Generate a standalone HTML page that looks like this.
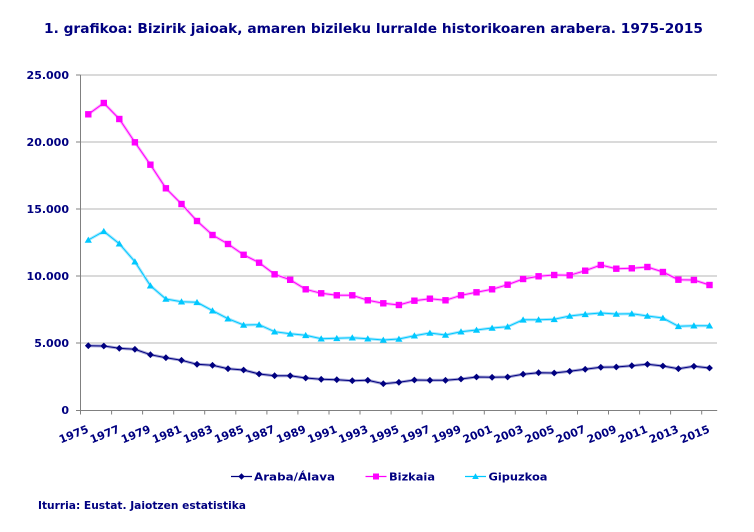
<!DOCTYPE html>
<html><head><meta charset="utf-8"><style>
html,body{margin:0;padding:0;background:#fff;}
svg{display:block;}
text{font-family:"DejaVu Sans","Liberation Sans",sans-serif;font-weight:bold;fill:#000080;}
</style></head><body>
<svg width="754" height="532" viewBox="0 0 754 532" xmlns="http://www.w3.org/2000/svg">
<defs>
<marker id="mb" markerUnits="userSpaceOnUse" markerWidth="8" markerHeight="8" refX="4" refY="4" overflow="visible"><rect x="0.8" y="0.8" width="6.4" height="6.4" fill="#ff00ff"/></marker>
<marker id="mg" markerUnits="userSpaceOnUse" markerWidth="8" markerHeight="8" refX="4" refY="4" overflow="visible"><polygon points="4,0.6 7.6,6.8 0.4,6.8" fill="#00c8ff"/></marker>
<marker id="ma" markerUnits="userSpaceOnUse" markerWidth="8" markerHeight="8" refX="4" refY="4" overflow="visible"><polygon points="4,0.6 7.4,4 4,7.4 0.6,4" fill="#000080"/></marker>
</defs>

<text x="44" y="33" font-size="13.5" textLength="659" lengthAdjust="spacingAndGlyphs">1. grafikoa: Bizirik jaioak, amaren bizileku lurralde historikoaren arabera. 1975-2015</text>

<!-- gridlines -->
<g stroke="#b4b4b4" stroke-width="1">
<line x1="80.5" y1="75" x2="717" y2="75"/>
<line x1="80.5" y1="142" x2="717" y2="142"/>
<line x1="80.5" y1="209" x2="717" y2="209"/>
<line x1="80.5" y1="276" x2="717" y2="276"/>
<line x1="80.5" y1="343" x2="717" y2="343"/>
</g>
<!-- axes -->
<g stroke="#808080" stroke-width="1">
<line x1="80.5" y1="75" x2="80.5" y2="410.5"/>
<line x1="80.5" y1="410.5" x2="717.2" y2="410.5"/>
<line x1="76" y1="75" x2="80.5" y2="75"/>
<line x1="76" y1="142" x2="80.5" y2="142"/>
<line x1="76" y1="209" x2="80.5" y2="209"/>
<line x1="76" y1="276" x2="80.5" y2="276"/>
<line x1="76" y1="343" x2="80.5" y2="343"/>
<line x1="76" y1="410.5" x2="80.5" y2="410.5"/>
<path d="M80.5 410.5v4M111.6 410.5v4M142.6 410.5v4M173.7 410.5v4M204.7 410.5v4M235.8 410.5v4M266.9 410.5v4M297.9 410.5v4M329 410.5v4M360 410.5v4M391.1 410.5v4M422.2 410.5v4M453.2 410.5v4M484.3 410.5v4M515.3 410.5v4M546.4 410.5v4M577.5 410.5v4M608.5 410.5v4M639.6 410.5v4M670.6 410.5v4M701.7 410.5v4"/>
</g>

<!-- y labels -->
<g font-size="11" text-anchor="end">
<text x="69" y="79">25.000</text>
<text x="69" y="146">20.000</text>
<text x="69" y="213">15.000</text>
<text x="69" y="280">10.000</text>
<text x="69" y="347">5.000</text>
<text x="69" y="414">0</text>
</g>

<!-- x labels -->
<g font-size="11" text-anchor="end">
<text transform="translate(89.3,432) rotate(-22)">1975</text>
<text transform="translate(120.3,432) rotate(-22)">1977</text>
<text transform="translate(151.4,432) rotate(-22)">1979</text>
<text transform="translate(182.5,432) rotate(-22)">1981</text>
<text transform="translate(213.5,432) rotate(-22)">1983</text>
<text transform="translate(244.6,432) rotate(-22)">1985</text>
<text transform="translate(275.6,432) rotate(-22)">1987</text>
<text transform="translate(306.7,432) rotate(-22)">1989</text>
<text transform="translate(337.8,432) rotate(-22)">1991</text>
<text transform="translate(368.8,432) rotate(-22)">1993</text>
<text transform="translate(399.9,432) rotate(-22)">1995</text>
<text transform="translate(430.9,432) rotate(-22)">1997</text>
<text transform="translate(462,432) rotate(-22)">1999</text>
<text transform="translate(493.1,432) rotate(-22)">2001</text>
<text transform="translate(524.1,432) rotate(-22)">2003</text>
<text transform="translate(555.2,432) rotate(-22)">2005</text>
<text transform="translate(586.2,432) rotate(-22)">2007</text>
<text transform="translate(617.3,432) rotate(-22)">2009</text>
<text transform="translate(648.4,432) rotate(-22)">2011</text>
<text transform="translate(679.4,432) rotate(-22)">2013</text>
<text transform="translate(710.5,432) rotate(-22)">2015</text>
</g>

<!-- Bizkaia -->
<polyline fill="none" stroke="#ffb0ff" stroke-width="3" points="88.3,114.3 103.8,103 119.3,119 134.9,142.3 150.4,164.7 165.9,188.3 181.5,204 197,221 212.5,235 228,244 243.6,254.8 259.1,262.7 274.6,274.3 290.2,279.8 305.7,289.3 321.2,293.3 336.8,295.3 352.3,295.3 367.8,300.3 383.3,303.3 398.9,305 414.4,300.7 429.9,298.7 445.5,300.3 461,295.3 476.5,292.3 492.1,289.3 507.6,284.7 523.1,279 538.6,276.3 554.2,275 569.7,275.3 585.2,270.7 600.8,265 616.3,268.7 631.8,268.3 647.4,267 662.9,272 678.4,279.7 693.9,280 709.5,285"/>
<polyline fill="none" stroke="#ff00ff" stroke-width="1" marker-start="url(#mb)" marker-mid="url(#mb)" marker-end="url(#mb)" points="88.3,114.3 103.8,103 119.3,119 134.9,142.3 150.4,164.7 165.9,188.3 181.5,204 197,221 212.5,235 228,244 243.6,254.8 259.1,262.7 274.6,274.3 290.2,279.8 305.7,289.3 321.2,293.3 336.8,295.3 352.3,295.3 367.8,300.3 383.3,303.3 398.9,305 414.4,300.7 429.9,298.7 445.5,300.3 461,295.3 476.5,292.3 492.1,289.3 507.6,284.7 523.1,279 538.6,276.3 554.2,275 569.7,275.3 585.2,270.7 600.8,265 616.3,268.7 631.8,268.3 647.4,267 662.9,272 678.4,279.7 693.9,280 709.5,285"/>

<!-- Gipuzkoa -->
<polyline fill="none" stroke="#a8e8ff" stroke-width="3" points="88.3,240 103.8,231.3 119.3,243.7 134.9,261.7 150.4,285.7 165.9,299 181.5,301.7 197,302.3 212.5,310.7 228,318.7 243.6,325 259.1,324.7 274.6,331.7 290.2,333.8 305.7,335.3 321.2,338.7 336.8,338.3 352.3,337.7 367.8,338.7 383.3,340 398.9,339 414.4,335.7 429.9,333 445.5,335 461,331.7 476.5,330 492.1,328 507.6,326.7 523.1,319.8 538.6,319.7 554.2,319.3 569.7,316 585.2,314.3 600.8,313 616.3,314 631.8,313.7 647.4,316 662.9,318 678.4,326.3 693.9,325.7 709.5,325.7"/>
<polyline fill="none" stroke="#00c8ff" stroke-width="1" marker-start="url(#mg)" marker-mid="url(#mg)" marker-end="url(#mg)" points="88.3,240 103.8,231.3 119.3,243.7 134.9,261.7 150.4,285.7 165.9,299 181.5,301.7 197,302.3 212.5,310.7 228,318.7 243.6,325 259.1,324.7 274.6,331.7 290.2,333.8 305.7,335.3 321.2,338.7 336.8,338.3 352.3,337.7 367.8,338.7 383.3,340 398.9,339 414.4,335.7 429.9,333 445.5,335 461,331.7 476.5,330 492.1,328 507.6,326.7 523.1,319.8 538.6,319.7 554.2,319.3 569.7,316 585.2,314.3 600.8,313 616.3,314 631.8,313.7 647.4,316 662.9,318 678.4,326.3 693.9,325.7 709.5,325.7"/>

<!-- Araba -->
<polyline fill="none" stroke="#a8a8d8" stroke-width="3" points="88.3,345.7 103.8,346 119.3,348.3 134.9,349.3 150.4,354.7 165.9,357.7 181.5,360.3 197,364.3 212.5,365.3 228,368.7 243.6,370 259.1,374 274.6,375.7 290.2,375.8 305.7,378 321.2,379.3 336.8,379.7 352.3,380.7 367.8,380.3 383.3,383.7 398.9,382.3 414.4,380 429.9,380.3 445.5,380.3 461,379 476.5,377 492.1,377.3 507.6,377 523.1,374.2 538.6,372.7 554.2,373 569.7,371.3 585.2,369.3 600.8,367.3 616.3,367 631.8,365.7 647.4,364.3 662.9,366 678.4,368.7 693.9,366.3 709.5,368"/>
<polyline fill="none" stroke="#000080" stroke-width="1" marker-start="url(#ma)" marker-mid="url(#ma)" marker-end="url(#ma)" points="88.3,345.7 103.8,346 119.3,348.3 134.9,349.3 150.4,354.7 165.9,357.7 181.5,360.3 197,364.3 212.5,365.3 228,368.7 243.6,370 259.1,374 274.6,375.7 290.2,375.8 305.7,378 321.2,379.3 336.8,379.7 352.3,380.7 367.8,380.3 383.3,383.7 398.9,382.3 414.4,380 429.9,380.3 445.5,380.3 461,379 476.5,377 492.1,377.3 507.6,377 523.1,374.2 538.6,372.7 554.2,373 569.7,371.3 585.2,369.3 600.8,367.3 616.3,367 631.8,365.7 647.4,364.3 662.9,366 678.4,368.7 693.9,366.3 709.5,368"/>

<!-- legend -->
<line x1="231" y1="476.5" x2="252" y2="476.5" stroke="#000080" stroke-width="1.2"/>
<polygon points="241.5,473.3 244.7,476.5 241.5,479.7 238.3,476.5" fill="#000080"/>
<text x="254" y="480.7" font-size="11" textLength="81" lengthAdjust="spacingAndGlyphs">Araba/Álava</text>
<line x1="365.5" y1="476.5" x2="386.5" y2="476.5" stroke="#ff00ff" stroke-width="1.2"/>
<rect x="373" y="473.5" width="6" height="6" fill="#ff00ff"/>
<text x="389" y="480.7" font-size="11" textLength="46" lengthAdjust="spacingAndGlyphs">Bizkaia</text>
<line x1="465" y1="476.5" x2="486" y2="476.5" stroke="#00c8ff" stroke-width="1.2"/>
<polygon points="475.5,473.2 478.8,479 472.2,479" fill="#00c8ff"/>
<text x="488.5" y="480.7" font-size="11" textLength="59" lengthAdjust="spacingAndGlyphs">Gipuzkoa</text>

<!-- source -->
<text x="38" y="509" font-size="10.5" textLength="208" lengthAdjust="spacingAndGlyphs">Iturria: Eustat. Jaiotzen estatistika</text>
</svg>
</body></html>
